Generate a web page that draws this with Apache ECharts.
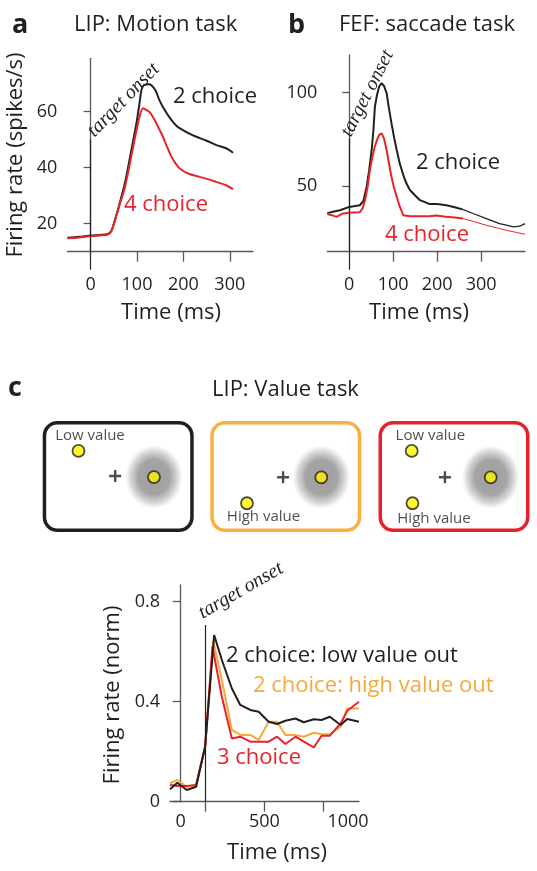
<!DOCTYPE html>
<html><head><meta charset="utf-8">
<script src="https://cdn.jsdelivr.net/npm/echarts@6/dist/echarts.min.js"></script>
<style>html,body{margin:0;padding:0;background:#fff}#c{width:537px;height:871px}</style>
</head><body><div id="c"></div>
<script>
// ---------- DATA ----------
// Panel a: LIP motion task (time ms, spikes/s)
const aTwoChoice = [[-50,15.0],[-25,15.3],[0,15.8],[20,16.0],[37,16.3],[45,17.5],[52,21],[63,27.5],[74,34.5],[87,45.5],[99,56],[105,62.5],[110,68],[115,69.4],[125,69.7],[131,69.4],[140,67.5],[149,63.8],[160,60.5],[174,57],[186,54.8],[199,53.4],[213,52.1],[228,51],[250,49.6],[271,48],[292,46.9],[307,45.3]];
const aFourChoice = [[-50,14.8],[-25,15.1],[0,15.6],[20,15.8],[37,16.1],[45,17.5],[52,21],[63,27],[74,33],[87,43.5],[99,53.4],[106,58.5],[113,61.2],[120,60.6],[128,59.6],[138,57],[147,54],[156,51],[165,47.3],[174,44],[183,41.5],[192,39.7],[210,37.9],[235,36.7],[255,35.8],[271,34.9],[292,33.7],[307,32.3]];
const aXLabels = [0,100,200,300];
const aXTicks = [100,200,300];
const aYLabels = [20,40,60];

// Panel b: FEF saccade task
const bTwoChoice = [[-50,35.6],[-35,36.5],[-21,37.1],[0,38.9],[24,39.8],[32,42],[39.5,49.6],[45,58],[51,69.3],[55,80],[58.4,92.5],[63,98.5],[68,103.2],[73.6,105],[79,103.5],[85,99.7],[90,92],[96,83.6],[102,76],[108,69.3],[115,62],[123,55.9],[130,51.5],[138,47.9],[150,45],[161,42.5],[183,40.4],[200,40.4],[221,39.8],[240,38.7],[258,37.6]];
const bTwoChoiceLate = [[258,37.6],[282,35.4],[312,32.7],[342,30],[360,29],[373,28.2],[388,28.6],[400,30]];
const bFourChoice = [[-50,35.1],[-40,34.5],[-29,33.6],[-14,35.4],[0,35.8],[24,36.1],[30,38],[36,42.5],[42,50],[47,58.6],[52,65],[58,71],[63,74.5],[68,77.3],[73.6,78.2],[79,75.5],[85,69.3],[90,62.5],[96,55],[102,49],[108,44.3],[115,39],[123,34.5],[138,33.9],[160,33.9],[183,33.9],[198,34.3],[220,33.6],[240,33.2],[259,32.7]];
const bFourChoiceLate = [[259,32.7],[285,31],[312,29.1],[335,27.8],[358,26.4],[380,25.3],[400,24.3]];
const bXLabels = [0,100,200,300];
const bXTicks = [100,200,300];
const bYLabels = [50,100];

// Panel c: LIP value task (normalized)
const cLowOut = [[-64,.05],[-20,.076],[36,.047],[92,.06],[146,.22],[200,.667],[246,.567],[306,.453],[356,.387],[416,.367],[466,.36],[526,.32],[576,.311],[626,.324],[686,.333],[736,.318],[796,.33],[842,.327],[892,.34],[956,.307],[996,.331],[1066,.32]];
const cHighOut = [[-64,.073],[-20,.087],[36,.06],[92,.067],[146,.22],[194,.645],[246,.487],[306,.287],[356,.267],[416,.267],[466,.247],[526,.32],[576,.32],[626,.267],[686,.267],[736,.26],[796,.276],[842,.27],[892,.27],[956,.3],[996,.373],[1066,.373]];
const cThreeChoice = [[-64,.067],[-20,.063],[36,.063],[92,.067],[146,.22],[190,.62],[246,.42],[306,.253],[356,.26],[416,.24],[466,.24],[526,.24],[576,.26],[626,.231],[686,.26],[736,.24],[796,.217],[842,.264],[892,.264],[956,.313],[996,.364],[1066,.4]];
const cXLabels = [0,500,1000];
const cXTicks = [147,500,853];
const cYLabels = [0,0.4,0.8];
const onsetA = 50, onsetB = 75.6, onsetC = 0.707, onsetCTime = 147;

// Schematic boxes (fractions of box width / height)
const boxTargets = [[0.737,0.505],[0.735,0.507],[0.743,0.507]];
const boxFixation = [[0.48,0.495],[0.482,0.507],[0.44,0.507]];
const boxLowDots = [[[0.237,0.27]],[],[[0.22,0.27]]];
const boxHighDots = [[],[[0.243,0.741]],[[0.225,0.741]]];

// ---------- STYLE ----------
const BLACK='#231f20', RED='#e8232a', ORANGE='#f7a83b', AXIS='#58595b';
const FONT='"Open Sans", sans-serif';
const boxColors=[BLACK,'#f9b041','#e5222a'];
const boxRects=[[42.7,421],[210.3,421],[378.5,421]];
const BW=151, BH=111;

function txt(x,y,text,size,color,o){
  o=o||{};
  return {type:'text',x:x,y:y,rotation:o.rot||0,silent:true,z:50,
    style:{text:text,fill:color,font:(o.style||'normal')+' '+(o.weight||'normal')+' '+size+'px '+(o.family||FONT),
      align:o.align||'left',verticalAlign:o.va||'middle',textAlign:o.align||'left',textVerticalAlign:o.va||'middle'}};
}
const deg=Math.PI/180;

const grids=[
  {left:67.4,top:58.3,width:185.6,height:193.4},
  {left:327.3,top:55,width:197.7,height:196.7},
  {left:170,top:585,width:189,height:216.7}
];
boxRects.forEach(b=>grids.push({left:b[0],top:b[1],width:BW,height:BH}));
grids.forEach(g=>{g.outerBoundsMode='none';g.containLabel=false;});

const lbl={fontSize:18,color:BLACK,fontFamily:FONT};
const axLine={lineStyle:{color:AXIS,width:1.3}};
const plain=v=>String(v);
function xMain(grid,min,max,labels,ticks,margin){
  return {type:'value',gridIndex:grid,min:min,max:max,position:'bottom',
    axisLine:axLine,splitLine:{show:false},
    axisTick:{show:true,customValues:ticks,length:10,lineStyle:{color:AXIS,width:1.3}},
    axisLabel:Object.assign({customValues:labels,margin:margin,formatter:plain},lbl)};
}
function xOnset(grid,min,max){
  return {type:'value',gridIndex:grid,min:min,max:max,position:'bottom',
    axisLine:{show:false},splitLine:{show:false},axisLabel:{show:false},
    axisTick:{show:true,customValues:[0],length:18,lineStyle:{color:BLACK,width:1.2}}};
}
function yMain(grid,min,max,labels,tl){
  return {type:'value',gridIndex:grid,min:min,max:max,
    axisLine:{show:true,lineStyle:{color:AXIS,width:1.3}},splitLine:{show:false},
    axisTick:{show:true,customValues:labels,length:tl,lineStyle:{color:AXIS,width:1.3}},
    axisLabel:Object.assign({customValues:labels,margin:10,formatter:plain},lbl)};
}
const xAxes=[
  xMain(0,-50,350,aXLabels,aXTicks,24), xOnset(0,-50,350),
  xMain(1,-50,400,bXLabels,bXTicks,24), xOnset(1,-50,400),
  xMain(2,-64,1066,cXLabels,cXTicks,11)
];
const yAxes=[
  yMain(0,10,79,aYLabels,7), yMain(1,15,120,bYLabels,7), yMain(2,0,0.867,cYLabels,8)
];
for(let i=0;i<3;i++){
  xAxes.push({type:'value',gridIndex:3+i,min:0,max:1,show:false});
  yAxes.push({type:'value',gridIndex:3+i,min:0,max:1,inverse:true,show:false});
}

function onsetLine(x,y0,y1){
  return {silent:true,symbol:['none','none'],label:{show:false},animation:false,
    lineStyle:{color:BLACK,width:1.2,type:'solid'},emphasis:{disabled:true},
    data:[[{coord:[x,y0]},{coord:[x,y1]}]]};
}
function line(xi,yi,data,color,w,extra){
  return Object.assign({type:'line',xAxisIndex:xi,yAxisIndex:yi,data:data,showSymbol:false,symbol:'none',
    clip:false,lineStyle:{color:color,width:w},itemStyle:{color:color},emphasis:{disabled:true},silent:true},extra||{});
}
const series=[
  line(0,0,aFourChoice,RED,2,{smooth:0.3,z:3}),
  line(0,0,aTwoChoice,BLACK,2,{smooth:0.3,z:2,markLine:onsetLine(0,10,onsetA)}),
  line(2,1,bTwoChoice,BLACK,2,{markLine:onsetLine(0,15,onsetB)}),
  line(2,1,bTwoChoiceLate,BLACK,1.3),
  line(2,1,bFourChoice,RED,2),
  line(2,1,bFourChoiceLate,RED,1),
  line(4,2,cHighOut,ORANGE,2),
  line(4,2,cThreeChoice,RED,2),
  line(4,2,cLowOut,BLACK,2,{markLine:onsetLine(onsetCTime,0,onsetC)})
];

const blobGrad={type:'radial',x:0.5,y:0.5,r:0.5,colorStops:[
  {offset:0,color:'rgba(135,135,135,1)'},{offset:0.55,color:'rgba(138,138,138,0.97)'},
  {offset:0.8,color:'rgba(150,150,150,0.5)'},{offset:1,color:'rgba(175,175,175,0)'}]};
const dotStyle={color:'#fff200',borderColor:BLACK,borderWidth:1.8};
const labelOffsets={low:[[11.5,-15.3],null,[18.7,-15.3]],high:[null,[16.5,13.4],[21.5,15]]};
for(let i=0;i<3;i++){
  const xi=5+i, yi=3+i;
  series.push({type:'scatter',xAxisIndex:xi,yAxisIndex:yi,silent:true,symbol:'circle',symbolSize:[58,64],
    itemStyle:{color:blobGrad},data:[boxTargets[i]],z:2});
  series.push({type:'scatter',xAxisIndex:xi,yAxisIndex:yi,silent:true,
    symbol:'path://M4,0h2v4h4v2h-4v4h-2v-4h-4v-2h4z',symbolSize:12,itemStyle:{color:BLACK},data:[boxFixation[i]],z:3});
  const dots=[{value:boxTargets[i]}];
  boxLowDots[i].forEach(p=>dots.push({value:p,label:{show:true,formatter:'Low value',position:'inside',offset:labelOffsets.low[i],
    fontSize:15,color:BLACK,fontFamily:FONT}}));
  boxHighDots[i].forEach(p=>dots.push({value:p,label:{show:true,formatter:'High value',position:'inside',offset:labelOffsets.high[i],
    fontSize:15,color:BLACK,fontFamily:FONT}}));
  series.push({type:'scatter',xAxisIndex:xi,yAxisIndex:yi,silent:true,symbol:'circle',symbolSize:12,
    itemStyle:dotStyle,data:dots,z:4});
}

const graphic=[];
boxRects.forEach((b,i)=>graphic.push({type:'rect',silent:true,z:10,
  shape:{x:b[0]+1.75,y:b[1]+1.75,width:BW-3.5,height:BH-3.5,r:13},
  style:{fill:'none',stroke:boxColors[i],lineWidth:3.5}}));
graphic.push(
  txt(12,25,'a',27,BLACK,{weight:'bold'}),
  txt(74,25,'LIP: Motion task',22,BLACK),
  txt(288,25,'b',27,BLACK,{weight:'bold'}),
  txt(339,25,'FEF: saccade task',22,BLACK),
  txt(8,388,'c',27,BLACK,{weight:'bold'}),
  txt(212,390,'LIP: Value task',22,BLACK),
  txt(173,97,'2 choice',22,BLACK),
  txt(124,205,'4 choice',22,RED),
  txt(416,163,'2 choice',22,BLACK),
  txt(385,235,'4 choice',22,RED),
  txt(226,656,'2 choice: low value out',22,BLACK),
  txt(253,686,'2 choice: high value out',22,ORANGE),
  txt(217,758,'3 choice',22,RED),
  txt(171,313,'Time (ms)',22,BLACK,{align:'center'}),
  txt(419,313,'Time (ms)',22,BLACK,{align:'center'}),
  txt(277,853,'Time (ms)',22,BLACK,{align:'center'}),
  txt(16,155,'Firing rate (spikes/s)',22,BLACK,{align:'center',rot:90*deg}),
  txt(113,695,'Firing rate (norm)',22,BLACK,{align:'center',rot:90*deg}),
  txt(98,141,'target onset',20,BLACK,{family:'"Liberation Serif", serif',style:'italic',va:'bottom',rot:46*deg}),
  txt(355,140,'target onset',20,BLACK,{family:'"Liberation Serif", serif',style:'italic',va:'bottom',rot:63*deg}),
  txt(205,623,'target onset',20,BLACK,{family:'"Liberation Serif", serif',style:'italic',va:'bottom',rot:30*deg})
);

const chart=echarts.init(document.getElementById('c'),null,{renderer:'canvas'});
chart.setOption({animation:false,backgroundColor:'#fff',grid:grids,xAxis:xAxes,yAxis:yAxes,series:series,graphic:graphic});
</script></body></html>
